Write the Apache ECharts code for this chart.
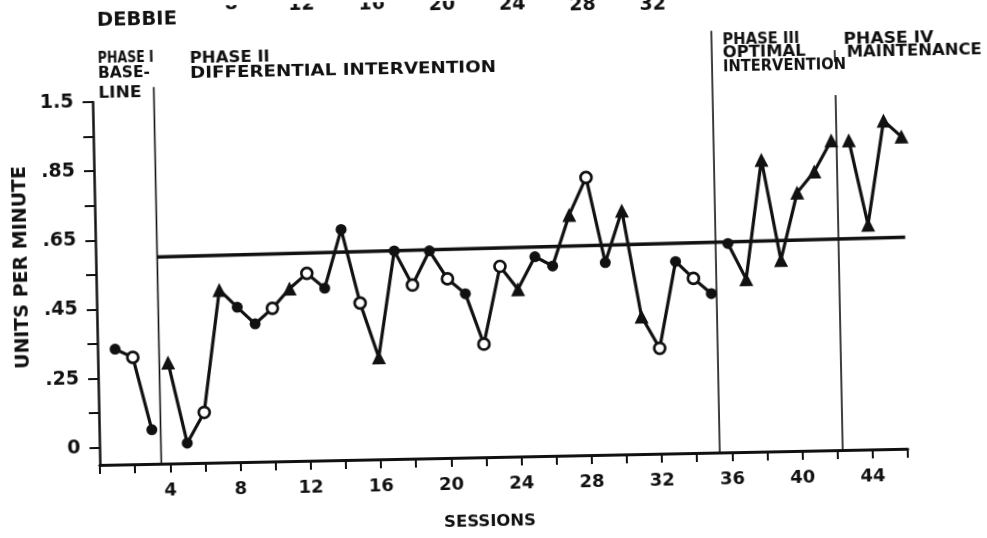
<!DOCTYPE html>
<html>
<head>
<meta charset="utf-8">
<script src="https://cdn.jsdelivr.net/npm/echarts@6/dist/echarts.min.js"></script>
<style>
  html, body { margin: 0; padding: 0; background: #fff; overflow: hidden; }
  /* the scanned figure sits slightly tilted on the page */
  #chart { width: 987px; height: 538px; transform: rotate(-1.15deg); transform-origin: 50% 50%; }
</style>
</head>
<body>
<div id="chart"></div>
<script>
// y values are in tick steps of the printed axis (0 .. 10 = "0" .. "1.5")
const sessions = [1, 2, 3, 4, 5, 6, 7, 8, 9, 10, 11, 12, 13, 14, 15, 16, 17, 18, 19, 20, 21, 22, 23,
  24, 25, 26, 27, 28, 29, 30, 31, 32, 33, 34, 35, 36, 37, 38, 39, 40, 41, 42, 43, 44, 45, 46];
const values = [2.84, 2.59, 0.49,
  2.42, 0.08, 0.96, 4.49, 3.98, 3.49, 3.93, 4.49, 4.92, 4.48,
  6.17, 4.03, 2.45, 5.52, 4.52, 5.50, 4.68, 4.24, 2.77, 5.01,
  4.34, 5.27, 4.99, 6.46, 7.53, 5.06, 6.55, 3.48, 2.55, 5.05,
  4.55, 4.10,
  5.54, 4.50, 7.94, 5.03, 6.97, 7.57, 8.46,
  8.45, 6.00, 9.00, 8.53];
// f = filled dot, o = open dot, t = triangle
const markers = ["f", "o", "f",
  "t", "f", "o", "t", "f", "f", "o", "t", "o", "f",
  "f", "o", "t", "f", "o", "f", "o", "f", "o", "o",
  "t", "f", "f", "t", "o", "f", "t", "t", "o", "f",
  "o", "f",
  "f", "t", "t", "t", "t", "t", "t",
  "t", "t", "t", "t"];
const phaseLast = [3, 35, 42, 46];
const dividerAt = [3.5, 35.3, 42.3];
const dividerTop = [10.4, 11.7, 11.07];
const dividerGap = [null, null, [9.77, 10.72]];
const trendSessions = [3.5, 46.1];
const trendValues = [5.48, 5.62];
const yTickValues = [0, 1, 2, 3, 4, 5, 6, 7, 8, 9, 10];
const yLabelValues = [0, 2, 4, 6, 8, 10];
const yLabels = ["0", ".25", ".45", ".65", ".85", "1.5"];
const xLabelValues = [4, 8, 12, 16, 20, 24, 28, 32, 36, 40, 44];
const topRowSessions = [8, 12, 16, 20, 24, 28, 32];

const ink = "#111";
const font = "DejaVu Sans";

const markerStyle = {
  f: { symbol: "circle", symbolSize: 11, itemStyle: { color: ink, borderWidth: 0 } },
  o: { symbol: "circle", symbolSize: 11, itemStyle: { color: "#fff", borderColor: ink, borderWidth: 2.7 } },
  t: { symbol: "triangle", symbolSize: 14, itemStyle: { color: ink, borderWidth: 0 } },
};

const series = [];
let start = 0;
phaseLast.forEach((last) => {
  const data = [];
  for (let i = start; i < sessions.length && sessions[i] <= last; i++) {
    const m = markerStyle[markers[i]];
    data.push({ value: [sessions[i], values[i]], symbol: m.symbol, symbolSize: m.symbolSize, itemStyle: m.itemStyle });
    start = i + 1;
  }
  series.push({
    type: "line", data: data, showAllSymbol: true, z: 5,
    lineStyle: { color: ink, width: 3.2 }, itemStyle: { color: ink },
    emphasis: { disabled: true }, animation: false,
  });
});

dividerAt.forEach((s, k) => {
  const gap = dividerGap[k];
  const data = gap
    ? [[s, -0.5], [s, gap[0]], [s, "-"], [s, gap[1]], [s, dividerTop[k]]]
    : [[s, -0.5], [s, dividerTop[k]]];
  series.push({
    type: "line", symbol: "none", clip: false, z: 3, animation: false,
    data: data, connectNulls: false,
    lineStyle: { color: ink, width: 1.6 },
  });
});

series.push({
  type: "line", symbol: "none", clip: false, z: 4, animation: false,
  data: trendSessions.map((s, i) => [s, trendValues[i]]),
  lineStyle: { color: ink, width: 3.5 },
});

const chart = echarts.init(document.getElementById("chart"), null, { renderer: "canvas" });

chart.setOption({
  backgroundColor: "#fff",
  animation: false,
  grid: { left: 96, right: 83, top: 94, bottom: 81 },
  xAxis: {
    type: "value", min: 0, max: 46, interval: 2,
    axisLine: { onZero: false, lineStyle: { color: ink, width: 3 } },
    axisTick: { length: 9, lineStyle: { color: ink, width: 2 } },
    axisLabel: {
      customValues: xLabelValues, color: ink, fontFamily: font, fontWeight: "bold",
      fontSize: 18, margin: 18,
    },
    splitLine: { show: false },
  },
  yAxis: {
    type: "value", min: -0.5, max: 10,
    axisLine: { lineStyle: { color: ink, width: 2.5 } },
    axisTick: { customValues: yTickValues, length: 10, lineStyle: { color: ink, width: 2 } },
    axisLabel: {
      customValues: yLabelValues, color: ink, fontFamily: font, fontWeight: "bold",
      fontSize: 19, margin: 19,
      formatter: (v) => yLabels[yLabelValues.indexOf(v)],
    },
    splitLine: { show: false },
  },
  series: series,
});

// hand lettering is wider than the font: stretch each label to its width
const measure = document.createElement("canvas").getContext("2d");
const lettering = (text, x, y, size, width, align) => {
  const f = "bold " + size + "px '" + font + "'";
  measure.font = f;
  return {
    type: "text", silent: true, x: x, y: y, scaleX: width / measure.measureText(text).width,
    style: { text: text, x: 0, y: 0, fill: ink, font: f, align: align || "left", verticalAlign: "middle" },
  };
};

const graphics = [
  lettering("DEBBIE", 102, 13, 19, 80),
  lettering("PHASE I", 102, 51, 15.5, 56),
  lettering("BASE-", 102, 66, 15.5, 52),
  lettering("LINE", 102, 86, 15.5, 43),
  lettering("PHASE II", 194, 53, 15.5, 80),
  lettering("DIFFERENTIAL INTERVENTION", 194, 68, 15.5, 306),
  lettering("PHASE III", 727, 45, 15.5, 77),
  lettering("OPTIMAL", 727, 58, 15.5, 83),
  lettering("INTERVENTION", 727, 72, 15.5, 123),
  lettering("PHASE IV", 848, 47, 15.5, 90),
  lettering("MAINTENANCE", 851, 60, 15.5, 135),
  lettering("SESSIONS", 485, 522, 15, 92, "center"),
  {
    type: "text", silent: true, x: 22, y: 258, rotation: Math.PI / 2,
    style: { text: "UNITS PER MINUTE", fill: ink, font: "bold 19px '" + font + "'",
      align: "center", verticalAlign: "middle" },
  },
];

// partial tick labels of the figure above, cut by the page edge
topRowSessions.forEach((s) => {
  const px = chart.convertToPixel({ xAxisIndex: 0 }, s);
  graphics.push({
    type: "text", silent: true,
    style: { text: String(s), x: px, y: 4.7 + (px - 493.5) * 0.02, fill: ink,
      font: "bold 19px '" + font + "'", align: "center", verticalAlign: "middle" },
  });
});

chart.setOption({ graphic: graphics });
</script>
</body>
</html>
